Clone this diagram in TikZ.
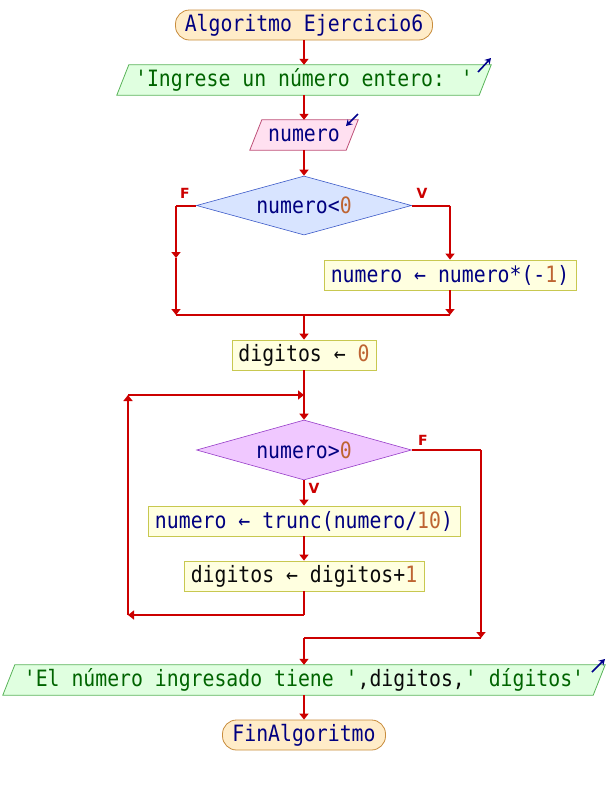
\documentclass[tikz,border=0pt]{standalone}
\usepackage{fontspec}
\newfontfamily\psfont[FakeStretch=0.88]{DejaVu Sans Mono}
\newfontfamily\lblfont{DejaVu Sans}
\usetikzlibrary{shapes.geometric,arrows.meta,calc,backgrounds}
\definecolor{flow}{RGB}{204,0,0}
\definecolor{txt}{RGB}{0,0,128}
\definecolor{vartxt}{RGB}{10,10,10}
\definecolor{numc}{RGB}{190,100,50}
\definecolor{strc}{RGB}{0,100,0}
\definecolor{termfill}{RGB}{255,236,200}
\definecolor{termdraw}{RGB}{200,140,60}
\definecolor{outfill}{RGB}{224,255,224}
\definecolor{outdraw}{RGB}{90,180,90}
\definecolor{infill}{RGB}{255,224,240}
\definecolor{indraw}{RGB}{190,80,120}
\definecolor{d1fill}{RGB}{216,228,255}
\definecolor{d1draw}{RGB}{60,90,200}
\definecolor{d2fill}{RGB}{240,200,255}
\definecolor{d2draw}{RGB}{150,60,200}
\definecolor{boxfill}{RGB}{255,255,224}
\definecolor{boxdraw}{RGB}{200,200,80}
\definecolor{icon}{RGB}{0,0,140}
\newcommand{\N}[1]{\textcolor{numc}{#1}}
\newcommand{\Sg}[1]{\textcolor{strc}{#1}}
\newcommand{\V}[1]{\textcolor{vartxt}{#1}}
\tikzset{
  base/.style={inner sep=0pt, minimum height=30pt, text=txt,
    font=\psfont\fontsize{22.5}{22.5}\selectfont},
  term/.style={base, rectangle, rounded corners=14pt, draw=termdraw, fill=termfill, line width=0.8pt},
  procbox/.style={base, rectangle, draw=boxdraw, fill=boxfill, line width=0.8pt},
  iobox/.style={base, rectangle},
  outshape/.style={draw=outdraw, fill=outfill, line width=0.8pt},
  inshape/.style={draw=indraw, fill=infill, line width=0.8pt},
  dec1/.style={base, diamond, aspect=3.6, draw=d1draw, fill=d1fill, line width=0.6pt, minimum width=215pt, minimum height=59pt},
  dec2/.style={base, diamond, aspect=3.6, draw=d2draw, fill=d2fill, line width=0.6pt, minimum width=215pt, minimum height=60pt},
  flowline/.style={draw=flow, line width=2pt},
  arr/.style={flowline, -{Triangle[width=9pt,length=6pt]}},
  lbl/.style={text=flow, font=\lblfont\bfseries\fontsize{14}{14}\selectfont, inner sep=0pt},
  ico/.style={draw=icon, line width=1.6pt, -{Stealth[width=7pt,length=6pt]}},
}
\begin{document}
\begin{tikzpicture}[x=1pt,y=-1pt]
\useasboundingbox (0,0) rectangle (608,785);
% nodes
\node[term, minimum width=257pt] (start) at (304,25) {Algoritmo Ejercicio6};
\node[iobox, minimum width=374pt] (o1) at (304,80) {\Sg{'Ingrese un número entero: '}};
\node[iobox, minimum width=108pt] (i1) at (304,135) {numero};
\node[dec1] (d1) at (304,205.5) {numero<\N{0}};
\node[procbox, minimum width=252pt] (a1) at (450,275) {numero ← numero*(-\N{1})};
\node[procbox, minimum width=144pt, text=vartxt] (a2) at (304,355) {digitos ← \N{0}};
\node[dec2] (d2) at (304,450) {numero>\N{0}};
\node[procbox, minimum width=312pt] (a3) at (304,521) {numero ← trunc(numero/\N{10})};
\node[procbox, minimum width=240pt, text=vartxt] (a4) at (304,576) {digitos ← digitos+\N{1}};
\node[iobox, minimum width=602pt] (o2) at (304,680) {\Sg{'El número ingresado tiene '}\V{,digitos,}\Sg{' dígitos'}};
\node[term, minimum width=163pt] (fin) at (304,735) {FinAlgoritmo};
% parallelogram shapes
\begin{scope}[on background layer]
\draw[outshape] ($(o1.north west)+(12,0)$) -- (o1.north east) -- ($(o1.south east)+(-12,0)$) -- (o1.south west) -- cycle;
\draw[inshape] ($(i1.north west)+(12,0)$) -- (i1.north east) -- ($(i1.south east)+(-12,0)$) -- (i1.south west) -- cycle;
\draw[outshape] ($(o2.north west)+(12,0)$) -- (o2.north east) -- ($(o2.south east)+(-12,0)$) -- (o2.south west) -- cycle;
\end{scope}
% icons
\coordinate (ic1a) at (478,72); \coordinate (ic1b) at (491,58);
\draw[ico] (ic1a) -- (ic1b);
\coordinate (ic2a) at (358,114); \coordinate (ic2b) at (346,126);
\draw[ico] (ic2a) -- (ic2b);
\coordinate (ic3a) at (592,672); \coordinate (ic3b) at (605,659);
\draw[ico] (ic3a) -- (ic3b);
% connectors
\draw[arr] (start.south) -- (o1.north);
\draw[arr] (o1.south) -- (i1.north);
\draw[arr] (i1.south) -- (d1.north);
% decision 1
\coordinate (fl1) at (176,205.5);
\coordinate (fl2) at (176,258);
\coordinate (j1) at (176,315);
\coordinate (vr1) at (450,205.5);
\coordinate (j2) at (450,315);
\coordinate (jm) at (304,315);
\draw[flowline] (d1.west) -- (fl1);
\draw[arr] (fl1) -- (fl2);
\draw[arr] (fl2) -- (j1);
\draw[flowline] (d1.east) -- (vr1);
\draw[arr] (vr1) -- (a1.north);
\draw[arr] (a1.south) -- (j2);
\draw[flowline] (j1) -- (j2);
\draw[arr] (jm) -- (a2.north);
\node[lbl] (lf1) at (185,193) {F};
\node[lbl] (lv1) at (422,193) {V};
% loop
\coordinate (lp) at (304,395);
\coordinate (lb1) at (304,615);
\coordinate (lb2) at (128,615);
\coordinate (lb3) at (128,395);
\draw[flowline] (a2.south) -- (lp);
\draw[arr] (lp) -- (d2.north);
\draw[arr] (d2.south) -- (a3.north);
\draw[arr] (a3.south) -- (a4.north);
\draw[flowline] (a4.south) -- (lb1);
\draw[arr] (lb1) -- (lb2);
\draw[arr] (lb2) -- (lb3);
\draw[arr] (lb3) -- (lp);
\node[lbl] (lf2) at (423,440) {F};
\node[lbl] (lv2) at (314,488) {V};
% exit
\coordinate (ex1) at (481,450);
\coordinate (ex2) at (481,638);
\coordinate (ex3) at (304,638);
\draw[flowline] (d2.east) -- (ex1);
\draw[arr] (ex1) -- (ex2);
\draw[flowline] (ex3) -- (ex2);
\draw[arr] (ex3) -- (o2.north);
\draw[arr] (o2.south) -- (fin.north);
\end{tikzpicture}
\end{document}
